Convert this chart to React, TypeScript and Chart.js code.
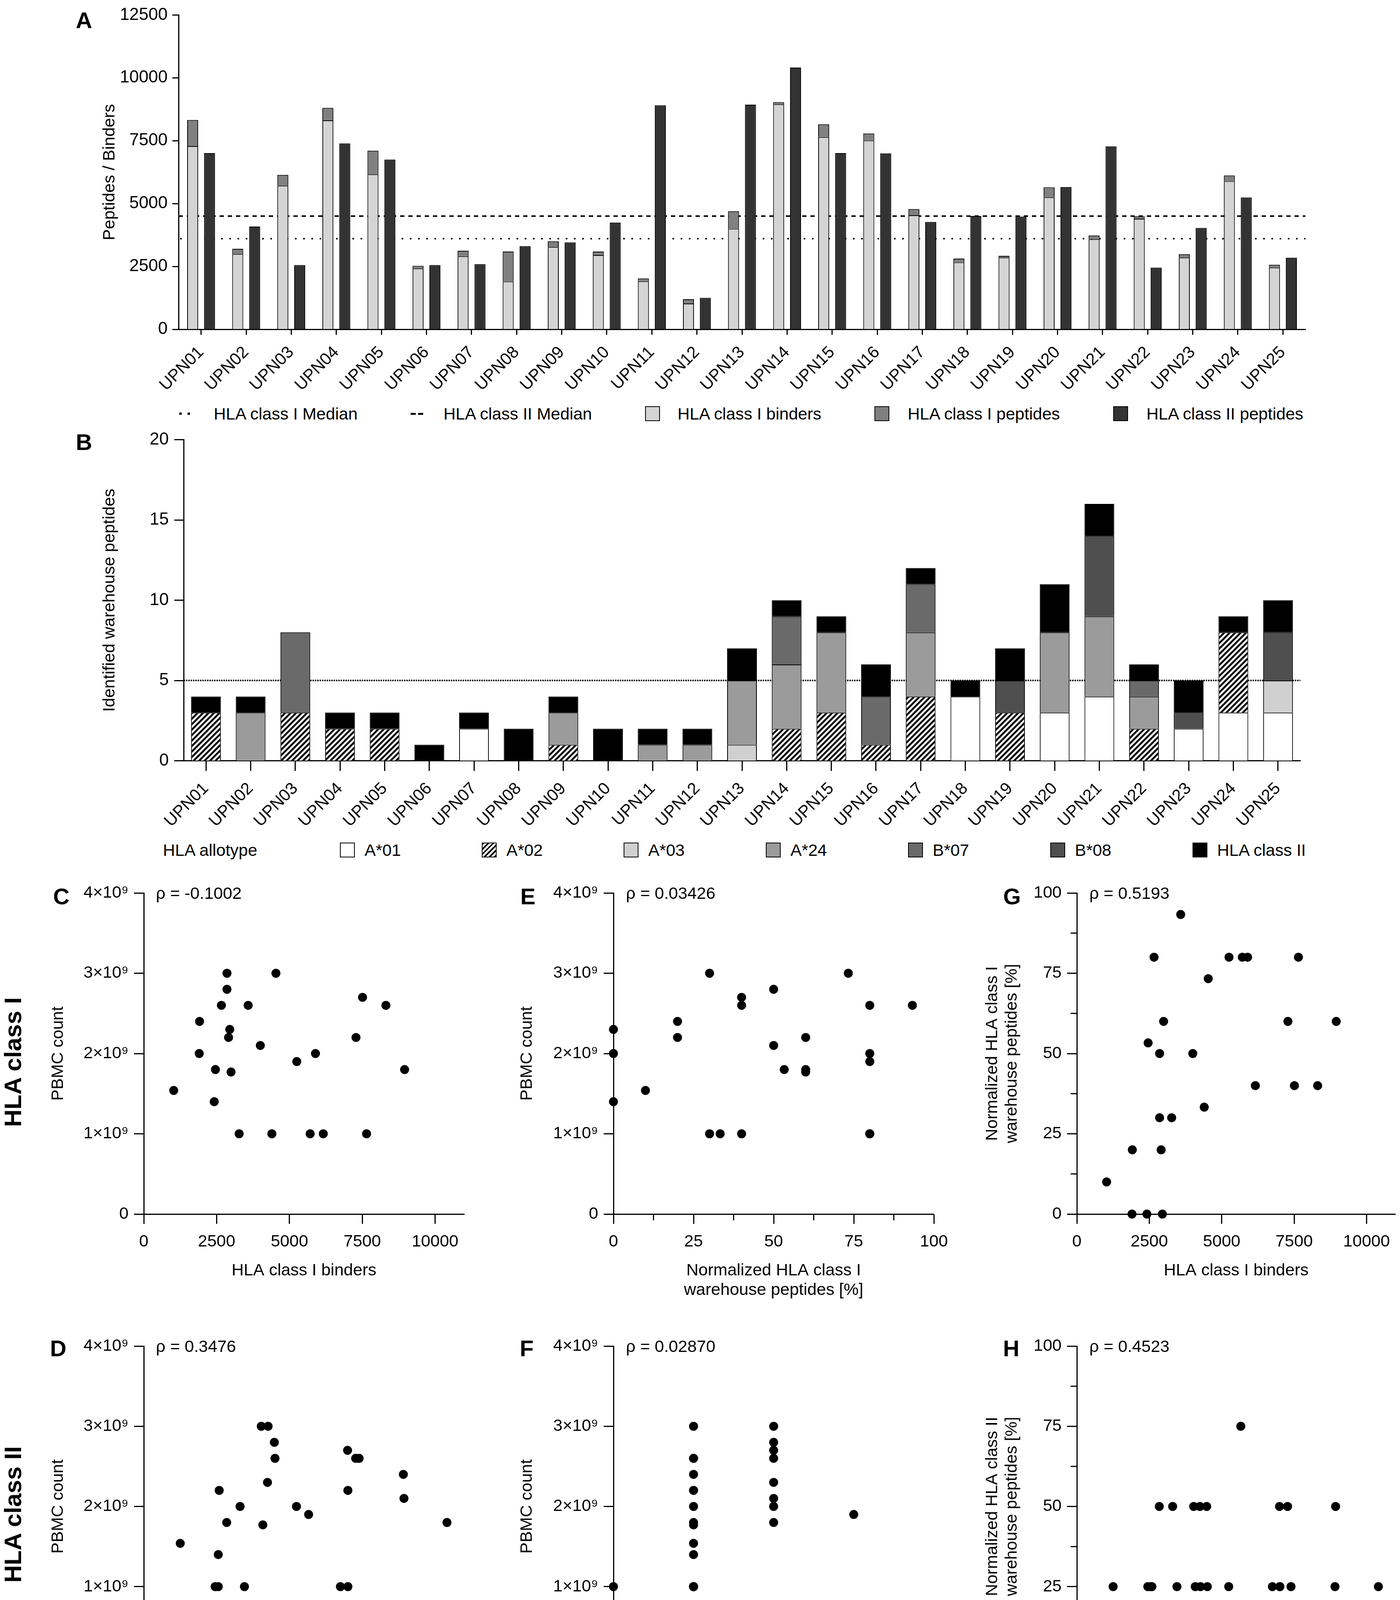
import React, { useEffect, useRef } from 'react';
import { Chart, registerables } from 'chart.js';

Chart.register(...registerables);

const FONT = '"Liberation Sans", Arial, Helvetica, sans-serif';
Chart.defaults.font.family = FONT;
Chart.defaults.color = '#000';

// ---------------- DATA ----------------
const patients = [
  'UPN01', 'UPN02', 'UPN03', 'UPN04', 'UPN05', 'UPN06', 'UPN07', 'UPN08', 'UPN09', 'UPN10',
  'UPN11', 'UPN12', 'UPN13', 'UPN14', 'UPN15', 'UPN16', 'UPN17', 'UPN18', 'UPN19', 'UPN20',
  'UPN21', 'UPN22', 'UPN23', 'UPN24', 'UPN25',
];

// Panel A
const classIBinders = [7285, 2995, 5712, 8312, 6162, 2418, 2910, 1904, 3273, 2952, 1915, 1027, 4001, 8954, 7649, 7510, 4536, 2664, 2856, 5253, 3584, 4397, 2856, 5894, 2460];
const classIPeptides = [8323, 3199, 6140, 8804, 7103, 2525, 3124, 3092, 3498, 3092, 2022, 1198, 4696, 9029, 8151, 7788, 4782, 2813, 2920, 5648, 3733, 4493, 2985, 6119, 2567];
const classIIPeptides = [7007, 4087, 2557, 7392, 6750, 2557, 2589, 3306, 3455, 4247, 8911, 1252, 8932, 10409, 7007, 6996, 4268, 4504, 4482, 5659, 7274, 2450, 4033, 5242, 2846];
const classIMedian = 3605;
const classIIMedian = 4500;
const countTicksA = [0, 2500, 5000, 7500, 10000, 12500];

// Panel B (identified warehouse peptides per allotype)
const a01 = [0, 0, 0, 0, 0, 0, 2, 0, 0, 0, 0, 0, 0, 0, 0, 0, 0, 4, 0, 3, 4, 0, 2, 3, 3];
const a02 = [3, 0, 3, 2, 2, 0, 0, 0, 1, 0, 0, 0, 0, 2, 3, 1, 4, 0, 3, 0, 0, 2, 0, 5, 0];
const a03 = [0, 0, 0, 0, 0, 0, 0, 0, 0, 0, 0, 0, 1, 0, 0, 0, 0, 0, 0, 0, 0, 0, 0, 0, 2];
const a24 = [0, 3, 0, 0, 0, 0, 0, 0, 2, 0, 1, 1, 4, 4, 5, 0, 4, 0, 0, 5, 5, 2, 0, 0, 0];
const b07 = [0, 0, 5, 0, 0, 0, 0, 0, 0, 0, 0, 0, 0, 3, 0, 3, 3, 0, 0, 0, 0, 1, 0, 0, 0];
const b08 = [0, 0, 0, 0, 0, 0, 0, 0, 0, 0, 0, 0, 0, 0, 0, 0, 0, 0, 2, 0, 5, 0, 1, 0, 3];
const classIIWarehouse = [1, 1, 0, 1, 1, 1, 1, 2, 1, 2, 1, 1, 2, 1, 1, 2, 1, 1, 2, 3, 2, 1, 2, 1, 2];
const warehouseThreshold = 5;

// Panels C-H
const pbmcCount = [2.2e9, 1.77e9, 1.0e9, 2.6e9, 1.0e9, 1.4e9, 2.2e9, 2.0e9, 1.0e9, 2.3e9, 2.4e9, 1.54e9, 2.1e9, 1.8e9, 1.0e9, 2.7e9, 3.0e9, 2.6e9, 2.8e9, 1.9e9, 2.6e9, 1.0e9, 3.0e9, 2.0e9, 1.8e9];
const normClassI = [60, 60, 80, 40, 40, 0, 20, 0, 30, 0, 20, 10, 50, 60, 80, 40, 73.3, 80, 50, 80, 93.3, 33.3, 30, 80, 53.3];
const normClassII = [25, 25, 0, 25, 25, 25, 25, 50, 25, 50, 25, 25, 50, 25, 25, 50, 25, 25, 50, 75, 50, 25, 50, 25, 50];
const rhoLabels = ['ρ = -0.1002', 'ρ = 0.03426', 'ρ = 0.5193', 'ρ = 0.3476', 'ρ = 0.02870', 'ρ = 0.4523'];
const countTicks = [0, 2500, 5000, 7500, 10000];
const pctTicks = [0, 12.5, 25, 37.5, 50, 62.5, 75, 87.5, 100];
const pbmcTicks = [0, 1e9, 2e9, 3e9, 4e9];

// ---------------- STYLE ----------------
const C_BINDERS = '#d4d4d4';
const C_PEPT_I = '#808080';
const C_PEPT_II = '#333333';
const C_A01 = '#ffffff';
const C_A03 = '#d0d0d0';
const C_A24 = '#9b9b9b';
const C_B07 = '#6a6a6a';
const C_B08 = '#4f4f4f';
const C_II = '#000000';

const TICK_FONT_AB = 44;
const TITLE_FONT = 43;
const TICK_FONT_SC = 43;
const LEGEND_FONT = 43;
const MAJOR_TICK = 25;
const MINOR_TICK = 16;

function makeHatch(ctx: CanvasRenderingContext2D): CanvasPattern | string {
  const c = document.createElement('canvas');
  const s = 14;
  c.width = s;
  c.height = s;
  const g = c.getContext('2d');
  if (!g) return '#888';
  g.fillStyle = '#fff';
  g.fillRect(0, 0, s, s);
  g.strokeStyle = '#000';
  g.lineWidth = 4.8;
  g.beginPath();
  g.moveTo(-s / 2, s / 2); g.lineTo(s / 2, -s / 2);
  g.moveTo(0, s); g.lineTo(s, 0);
  g.moveTo(s / 2, s * 1.5); g.lineTo(s * 1.5, s / 2);
  g.stroke();
  return ctx.createPattern(c, 'repeat') || '#888';
}

const axisBorder = { color: '#000', width: 3 };
const setTicks = (values: number[]) => (axis: any) => {
  axis.ticks = values.map((value) => ({ value }));
};

const medianPlugin = {
  id: 'medianLines',
  beforeDatasetsDraw(chart: any) {
    const { ctx, chartArea } = chart;
    const y = chart.scales.y;
    ctx.save();
    ctx.strokeStyle = '#000';
    ctx.lineWidth = 4;
    ctx.setLineDash([4, 17]);
    let py = y.getPixelForValue(classIMedian);
    ctx.beginPath();
    ctx.moveTo(chartArea.left + 4, py);
    ctx.lineTo(chartArea.right, py);
    ctx.stroke();
    ctx.setLineDash([11, 10]);
    py = y.getPixelForValue(classIIMedian);
    ctx.beginPath();
    ctx.moveTo(chartArea.left, py);
    ctx.lineTo(chartArea.right, py);
    ctx.stroke();
    ctx.restore();
  },
};

const thresholdPlugin = {
  id: 'thresholdLine',
  beforeDatasetsDraw(chart: any) {
    const { ctx, chartArea } = chart;
    const y = chart.scales.y;
    const py = y.getPixelForValue(warehouseThreshold);
    ctx.save();
    ctx.strokeStyle = '#000';
    ctx.lineWidth = 4;
    ctx.setLineDash([3.5, 2.5]);
    ctx.beginPath();
    ctx.moveTo(chartArea.left, py);
    ctx.lineTo(chartArea.right, py);
    ctx.stroke();
    ctx.restore();
  },
};

// draws the short, unlabeled minor ticks of the scatter axes
const minorTickPlugin = {
  id: 'minorTicks',
  afterDraw(chart: any) {
    const { ctx, chartArea } = chart;
    ctx.save();
    ctx.strokeStyle = '#000';
    ctx.lineWidth = 3;
    ctx.beginPath();
    const xs = chart.scales.x;
    xs.ticks.forEach((t: any, i: number) => {
      if (xs._labelItems ? false : false) return;
      const label = xs.getLabelForValue ? xs.ticks[i].label : '';
      if (label === '') {
        const px = xs.getPixelForValue(t.value);
        ctx.moveTo(px, chartArea.bottom);
        ctx.lineTo(px, chartArea.bottom + MINOR_TICK);
      }
    });
    const ys = chart.scales.y;
    ys.ticks.forEach((t: any) => {
      if (t.label === '') {
        const py = ys.getPixelForValue(t.value);
        ctx.moveTo(chartArea.left, py);
        ctx.lineTo(chartArea.left - MINOR_TICK, py);
      }
    });
    ctx.stroke();
    ctx.restore();
  },
};

function makePanelA() {
  const barOpts = { borderColor: '#000', borderWidth: 2, categoryPercentage: 0.75, barPercentage: 0.65 };
  return {
    type: 'bar',
    data: {
      labels: patients,
      datasets: [
        { label: 'HLA class I binders', data: classIBinders, backgroundColor: C_BINDERS, stack: 'classI', ...barOpts },
        { label: 'HLA class I peptides', data: classIPeptides.map((v, i) => v - classIBinders[i]), backgroundColor: C_PEPT_I, stack: 'classI', ...barOpts },
        { label: 'HLA class II peptides', data: classIIPeptides, backgroundColor: C_PEPT_II, stack: 'classII', ...barOpts },
      ],
    },
    options: {
      animation: false,
      responsive: false,
      events: [],
      layout: { padding: { left: 255, right: 242, top: 23, bottom: 0 } },
      plugins: { legend: { display: false }, tooltip: { enabled: false } },
      scales: {
        x: {
          stacked: true,
          grid: { drawOnChartArea: false, offset: false, tickLength: 14, tickWidth: 3, tickColor: '#000' },
          border: axisBorder,
          ticks: { autoSkip: false, maxRotation: 45, minRotation: 45, padding: 20, color: '#000', font: { size: TITLE_FONT } },
          afterFit: (s: any) => { s.height = 167; },
        },
        y: {
          stacked: true,
          min: 0,
          max: 12500,
          afterBuildTicks: setTicks(countTicksA),
          grid: { drawOnChartArea: false, tickLength: 16, tickWidth: 3, tickColor: '#000' },
          border: axisBorder,
          ticks: { padding: 12, color: '#000', font: { size: TICK_FONT_AB }, callback: (v: any) => String(v) },
          title: { display: true, text: 'Peptides / Binders', color: '#000', font: { size: TITLE_FONT, lineHeight: 1.22 }, padding: 0 },
          afterFit: (s: any) => { s.width = 202; },
        },
      },
    },
    plugins: [medianPlugin],
  };
}

function makePanelB(ctx: CanvasRenderingContext2D) {
  const hatch = makeHatch(ctx);
  const barOpts = { borderColor: '#000', borderWidth: 2, categoryPercentage: 1, barPercentage: 0.665, stack: 'all' };
  const nz = (arr: number[]) => arr.map((v) => (v === 0 ? null : v));
  return {
    type: 'bar',
    data: {
      labels: patients,
      datasets: [
        { label: 'A*01', data: nz(a01), backgroundColor: C_A01, ...barOpts },
        { label: 'A*02', data: nz(a02), backgroundColor: hatch, ...barOpts },
        { label: 'A*03', data: nz(a03), backgroundColor: C_A03, ...barOpts },
        { label: 'A*24', data: nz(a24), backgroundColor: C_A24, ...barOpts },
        { label: 'B*07', data: nz(b07), backgroundColor: C_B07, ...barOpts },
        { label: 'B*08', data: nz(b08), backgroundColor: C_B08, ...barOpts },
        { label: 'HLA class II', data: nz(classIIWarehouse), backgroundColor: C_II, ...barOpts },
      ],
    },
    options: {
      animation: false,
      responsive: false,
      events: [],
      layout: { padding: { left: 255, right: 255, top: 40.5, bottom: 0 } },
      plugins: { legend: { display: false }, tooltip: { enabled: false } },
      scales: {
        x: {
          stacked: true,
          grid: { drawOnChartArea: false, offset: false, tickLength: 26, tickWidth: 3, tickColor: '#000' },
          border: axisBorder,
          ticks: { autoSkip: false, maxRotation: 45, minRotation: 45, padding: 20, color: '#000', font: { size: TITLE_FONT } },
          afterFit: (s: any) => { s.height = 182.4; },
        },
        y: {
          stacked: true,
          min: 0,
          max: 20,
          grid: { drawOnChartArea: false, tickLength: 24, tickWidth: 3, tickColor: '#000' },
          border: axisBorder,
          ticks: { stepSize: 5, padding: 14, color: '#000', font: { size: TICK_FONT_AB } },
          title: { display: true, text: 'Identified warehouse peptides', color: '#000', font: { size: TITLE_FONT, lineHeight: 1.22 }, padding: 0 },
          afterFit: (s: any) => { s.width = 215; },
        },
      },
    },
    plugins: [thresholdPlugin],
  };
}

interface ScatterSpec {
  xs: number[];
  ys: number[];
  xMax: number;
  xTicks: number[];
  xLabel: (v: number) => string;
  yMax: number;
  yTicks: number[];
  yLabel: (v: number) => string;
  xTitle: string | string[];
  yTitle: string | string[];
  padLeft: number;
  padRight: number;
  yAxisW: number;
  xAxisH: number;
}

const pbmcLabel = (v: number) => (v === 0 ? '0' : `${Math.round(v / 1e9)}×10⁹`);
const pctLabel = (v: number) => (v % 25 === 0 ? String(v) : '');
const countLabel = (v: number) => String(v);

function makeScatter(p: ScatterSpec) {
  const points = p.xs.map((x, i) => ({ x, y: p.ys[i] }));
  const majorColor = (label: (v: number) => string) => (c: any) =>
    c.tick && label(c.tick.value) === '' ? 'rgba(0,0,0,0)' : '#000';
  return {
    type: 'scatter',
    data: {
      datasets: [
        { data: points, backgroundColor: '#000', borderColor: '#000', borderWidth: 0, pointRadius: 11.5, clip: false },
      ],
    },
    options: {
      animation: false,
      responsive: false,
      events: [],
      layout: { padding: { left: p.padLeft, right: p.padRight, top: 50, bottom: 0 } },
      plugins: { legend: { display: false }, tooltip: { enabled: false } },
      scales: {
        x: {
          type: 'linear',
          min: 0,
          max: p.xMax,
          afterBuildTicks: setTicks(p.xTicks),
          grid: { drawOnChartArea: false, tickLength: MAJOR_TICK, tickWidth: 3, tickColor: majorColor(p.xLabel) },
          border: axisBorder,
          ticks: { autoSkip: false, maxRotation: 0, padding: 20, color: '#000', font: { size: TICK_FONT_SC }, callback: (v: any) => p.xLabel(v) },
          title: { display: true, text: p.xTitle, color: '#000', font: { size: TITLE_FONT, lineHeight: 1.16 }, padding: 0 },
          afterFit: (s: any) => { s.height = p.xAxisH; },
        },
        y: {
          type: 'linear',
          min: 0,
          max: p.yMax,
          afterBuildTicks: setTicks(p.yTicks),
          grid: { drawOnChartArea: false, tickLength: MAJOR_TICK, tickWidth: 3, tickColor: majorColor(p.yLabel) },
          border: axisBorder,
          ticks: { autoSkip: false, padding: 14, color: '#000', font: { size: TICK_FONT_SC }, callback: (v: any) => p.yLabel(v) },
          title: { display: true, text: p.yTitle, color: '#000', font: { size: TITLE_FONT, lineHeight: 1.16 }, padding: 0 },
          afterFit: (s: any) => { s.width = p.yAxisW; },
        },
      },
    },
    plugins: [minorTickPlugin],
  };
}

// column geometry for scatter panels
const colC = { left: 0, width: 1250, padLeft: 124, padRight: 62, yAxisW: 244 };
const colE = { left: 1250, width: 1230, padLeft: 74, padRight: 90, yAxisW: 246 };
const colG = { left: 2480, width: 1103, padLeft: 35, padRight: 6, yAxisW: 241 };

const countAxis = { xMax: 11000, xTicks: countTicks, xLabel: countLabel };
const pctAxis = { xMax: 100, xTicks: pctTicks, xLabel: pctLabel };
const pbmcY = { yMax: 4e9, yTicks: pbmcTicks, yLabel: pbmcLabel, yTitle: 'PBMC count' };
const pctY = { yMax: 100, yTicks: pctTicks, yLabel: pctLabel };

function ChartCanvas(props: { left: number; top: number; width: number; height: number; make: (ctx: CanvasRenderingContext2D) => any }) {
  const ref = useRef<HTMLCanvasElement>(null);
  useEffect(() => {
    const cv = ref.current;
    if (!cv) return;
    const ctx = cv.getContext('2d');
    if (!ctx) return;
    const chart = new Chart(cv, props.make(ctx));
    return () => chart.destroy();
  }, []);
  return (
    <canvas
      ref={ref}
      width={props.width}
      height={props.height}
      style={{ position: 'absolute', left: props.left, top: props.top, width: props.width, height: props.height }}
    />
  );
}

function CenterText(props: { x: number; y: number; text: string; size: number; bold?: boolean; rotate?: boolean }) {
  return (
    <div
      style={{
        position: 'absolute',
        left: props.x,
        top: props.y,
        fontSize: props.size,
        fontWeight: props.bold ? 700 : 400,
        lineHeight: 1,
        whiteSpace: 'nowrap',
        transform: `translate(-50%, -50%)${props.rotate ? ' rotate(-90deg)' : ''}`,
      }}
    >
      {props.text}
    </div>
  );
}

function LeftText(props: { x: number; y: number; text: string; size: number }) {
  return (
    <div style={{ position: 'absolute', left: props.x, top: props.y, fontSize: props.size, lineHeight: 1, whiteSpace: 'nowrap', transform: 'translateY(-50%)' }}>
      {props.text}
    </div>
  );
}

function Swatch(props: { x: number; y: number; bg: string }) {
  return (
    <div
      style={{
        position: 'absolute',
        left: props.x,
        top: props.y - 19,
        width: 38,
        height: 38,
        boxSizing: 'border-box',
        border: '2px solid #000',
        background: props.bg,
      }}
    />
  );
}

function Bit(props: { x: number; y: number; w: number; h: number }) {
  return <div style={{ position: 'absolute', left: props.x, top: props.y - props.h / 2, width: props.w, height: props.h, background: '#000' }} />;
}

const HATCH_CSS = 'repeating-linear-gradient(-45deg, #000 0px, #000 4px, #fff 4px, #fff 9px)';

export default function App() {
  useEffect(() => {
    document.body.style.margin = '0';
    document.body.style.background = '#fff';
  }, []);

  const legendAY = 1059;
  const legendBY = 2176;
  const bLegend = [
    { x: 870, label: 'A*01', bg: C_A01 },
    { x: 1233, label: 'A*02', bg: HATCH_CSS },
    { x: 1596, label: 'A*03', bg: C_A03 },
    { x: 1960, label: 'A*24', bg: C_A24 },
    { x: 2324, label: 'B*07', bg: C_B07 },
    { x: 2688, label: 'B*08', bg: C_B08 },
    { x: 3052, label: 'HLA class II', bg: C_II },
  ];

  return (
    <div style={{ position: 'relative', width: 3583, height: 4488, background: '#fff', fontFamily: FONT, color: '#000', overflow: 'hidden' }}>
      <ChartCanvas left={0} top={0} width={3583} height={1010} make={() => makePanelA()} />
      <ChartCanvas left={0} top={1085} width={3583} height={1045} make={(ctx) => makePanelB(ctx)} />

      {/* Row 1: C, E, G */}
      <ChartCanvas left={colC.left} top={2236} width={colC.width} height={50 + 822 + 170}
        make={() => makeScatter({ xs: classIBinders, ys: pbmcCount, ...countAxis, ...pbmcY, xTitle: 'HLA class I binders', padLeft: colC.padLeft, padRight: colC.padRight, yAxisW: colC.yAxisW, xAxisH: 170 })} />
      <ChartCanvas left={colE.left} top={2236} width={colE.width} height={50 + 822 + 220}
        make={() => makeScatter({ xs: normClassI, ys: pbmcCount, ...pctAxis, ...pbmcY, xTitle: ['Normalized HLA class I', 'warehouse peptides [%]'], padLeft: colE.padLeft, padRight: colE.padRight, yAxisW: colE.yAxisW, xAxisH: 220 })} />
      <ChartCanvas left={colG.left} top={2236} width={colG.width} height={50 + 822 + 170}
        make={() => makeScatter({ xs: classIBinders, ys: normClassI, ...countAxis, ...pctY, yTitle: ['Normalized HLA class I', 'warehouse peptides [%]'], xTitle: 'HLA class I binders', padLeft: colG.padLeft, padRight: colG.padRight, yAxisW: colG.yAxisW, xAxisH: 170 })} />

      {/* Row 2: D, F, H */}
      <ChartCanvas left={colC.left} top={3396} width={colC.width} height={50 + 821 + 170}
        make={() => makeScatter({ xs: classIIPeptides, ys: pbmcCount, ...countAxis, ...pbmcY, xTitle: 'HLA class II peptides', padLeft: colC.padLeft, padRight: colC.padRight, yAxisW: colC.yAxisW, xAxisH: 170 })} />
      <ChartCanvas left={colE.left} top={3396} width={colE.width} height={50 + 821 + 220}
        make={() => makeScatter({ xs: normClassII, ys: pbmcCount, ...pctAxis, ...pbmcY, xTitle: ['Normalized HLA class II', 'warehouse peptides [%]'], padLeft: colE.padLeft, padRight: colE.padRight, yAxisW: colE.yAxisW, xAxisH: 220 })} />
      <ChartCanvas left={colG.left} top={3396} width={colG.width} height={50 + 821 + 170}
        make={() => makeScatter({ xs: classIIPeptides, ys: normClassII, ...countAxis, ...pctY, yTitle: ['Normalized HLA class II', 'warehouse peptides [%]'], xTitle: 'HLA class II peptides', padLeft: colG.padLeft, padRight: colG.padRight, yAxisW: colG.yAxisW, xAxisH: 170 })} />

      {/* Legend A */}
      <Bit x={459} y={legendAY} w={6} h={6} />
      <Bit x={480} y={legendAY} w={6} h={6} />
      <LeftText x={547} y={legendAY} text="HLA class I Median" size={LEGEND_FONT} />
      <Bit x={1051} y={legendAY} w={13} h={5} />
      <Bit x={1070} y={legendAY} w={13} h={5} />
      <LeftText x={1135} y={legendAY} text="HLA class II Median" size={LEGEND_FONT} />
      <Swatch x={1651} y={legendAY} bg={C_BINDERS} />
      <LeftText x={1734} y={legendAY} text="HLA class I binders" size={LEGEND_FONT} />
      <Swatch x={2238} y={legendAY} bg={C_PEPT_I} />
      <LeftText x={2323} y={legendAY} text="HLA class I peptides" size={LEGEND_FONT} />
      <Swatch x={2849} y={legendAY} bg={C_PEPT_II} />
      <LeftText x={2934} y={legendAY} text="HLA class II peptides" size={LEGEND_FONT} />

      {/* Legend B */}
      <LeftText x={417} y={legendBY} text="HLA allotype" size={LEGEND_FONT} />
      {bLegend.map((it) => (
        <React.Fragment key={it.label}>
          <Swatch x={it.x} y={legendBY} bg={it.bg} />
          <LeftText x={it.x + 63} y={legendBY} text={it.label} size={LEGEND_FONT} />
        </React.Fragment>
      ))}

      {/* Panel letters */}
      <CenterText x={215} y={52} text="A" size={58} bold />
      <CenterText x={215} y={1132} text="B" size={58} bold />
      <CenterText x={157} y={2295} text="C" size={58} bold />
      <CenterText x={1351} y={2295} text="E" size={58} bold />
      <CenterText x={2590} y={2295} text="G" size={58} bold />
      <CenterText x={149} y={3452} text="D" size={58} bold />
      <CenterText x={1348} y={3452} text="F" size={58} bold />
      <CenterText x={2588} y={3452} text="H" size={58} bold />

      {/* Row labels */}
      <CenterText x={33} y={2719} text="HLA class I" size={62} bold rotate />
      <CenterText x={33} y={3877} text="HLA class II" size={62} bold rotate />

      {/* Correlation coefficients */}
      <LeftText x={399} y={2286} text={rhoLabels[0]} size={43} />
      <LeftText x={1602} y={2286} text={rhoLabels[1]} size={43} />
      <LeftText x={2788} y={2286} text={rhoLabels[2]} size={43} />
      <LeftText x={399} y={3446} text={rhoLabels[3]} size={43} />
      <LeftText x={1602} y={3446} text={rhoLabels[4]} size={43} />
      <LeftText x={2788} y={3446} text={rhoLabels[5]} size={43} />
    </div>
  );
}
